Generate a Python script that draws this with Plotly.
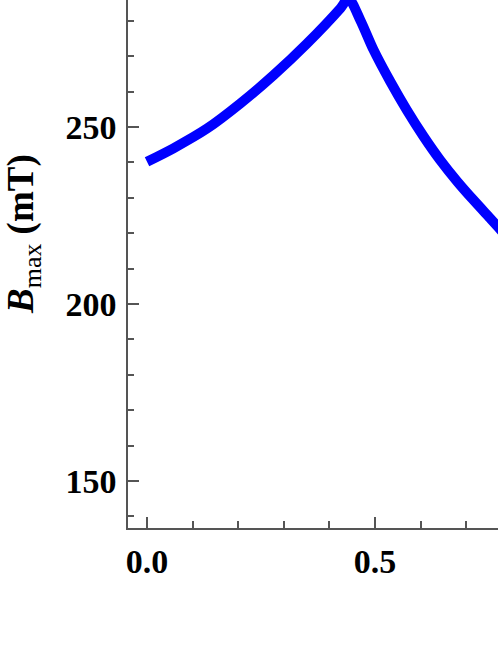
import plotly.graph_objects as go

# curve
x_vals = [0.0, 0.058, 0.132, 0.205, 0.278, 0.351, 0.424, 0.442,
          0.468, 0.497, 0.534, 0.570, 0.607, 0.643, 0.680, 0.716, 0.753, 0.770, 0.785]
b_max = [240.2, 244.0, 249.6, 256.7, 264.7, 273.6, 283.5, 286.3,
         280.2, 271.8, 262.8, 254.8, 247.3, 240.7, 234.7, 229.4, 224.2, 221.8, 219.6]

y_ticks = [150, 200, 250]
x_ticks = [0.0, 0.5]
x_labels = ["0.0", "0.5"]

tick_font = dict(family="Liberation Serif", size=34, color="black")

fig = go.Figure()
fig.add_trace(go.Scatter(
  x=x_vals, y=b_max, mode="lines",
  line=dict(color="#0000ff", width=10, shape="spline", smoothing=0.8),
  showlegend=False))

fig.update_xaxes(
  range=[-0.0417, 0.770],
  tickvals=x_ticks, ticktext=["<b>%s</b>" % t for t in x_labels],
  ticks="inside", ticklen=11, tickwidth=1.5, tickcolor="#555",
  minor=dict(dtick=0.1, tick0=0, ticks="inside", ticklen=7, tickwidth=1.5, tickcolor="#555"),
  showline=True, linecolor="#555", linewidth=1.5,
  showgrid=False, zeroline=False,
  tickfont=tick_font, ticklabelstandoff=2)

fig.update_yaxes(
  range=[136.7, 285.9],
  tickvals=y_ticks, ticktext=["<b>%d</b>" % t for t in y_ticks],
  ticks="inside", ticklen=11, tickwidth=1.5, tickcolor="#555",
  minor=dict(dtick=10, tick0=0, ticks="inside", ticklen=6, tickwidth=1.5, tickcolor="#555"),
  showline=True, linecolor="#555", linewidth=1.5,
  showgrid=False, zeroline=False,
  tickfont=tick_font, ticklabelstandoff=3)

fig.add_annotation(
  text="<b><i>B</i></b><sub>max</sub><b> (mT)</b>",
  xref="paper", yref="paper", x=0, y=0.557,
  xanchor="center", yanchor="middle", xshift=-104,
  textangle=-90, showarrow=False,
  font=dict(family="Liberation Serif", size=37, color="black"))

fig.update_layout(
  width=498, height=645,
  margin=dict(l=128, r=0, t=0, b=117),
  plot_bgcolor="white", paper_bgcolor="white")

# page has a default 8px body margin, drop it so the chart sits at 0,0
fig.write_html("out.html", config={"displayModeBar": False},
               post_script="document.body.style.margin='0px';")
